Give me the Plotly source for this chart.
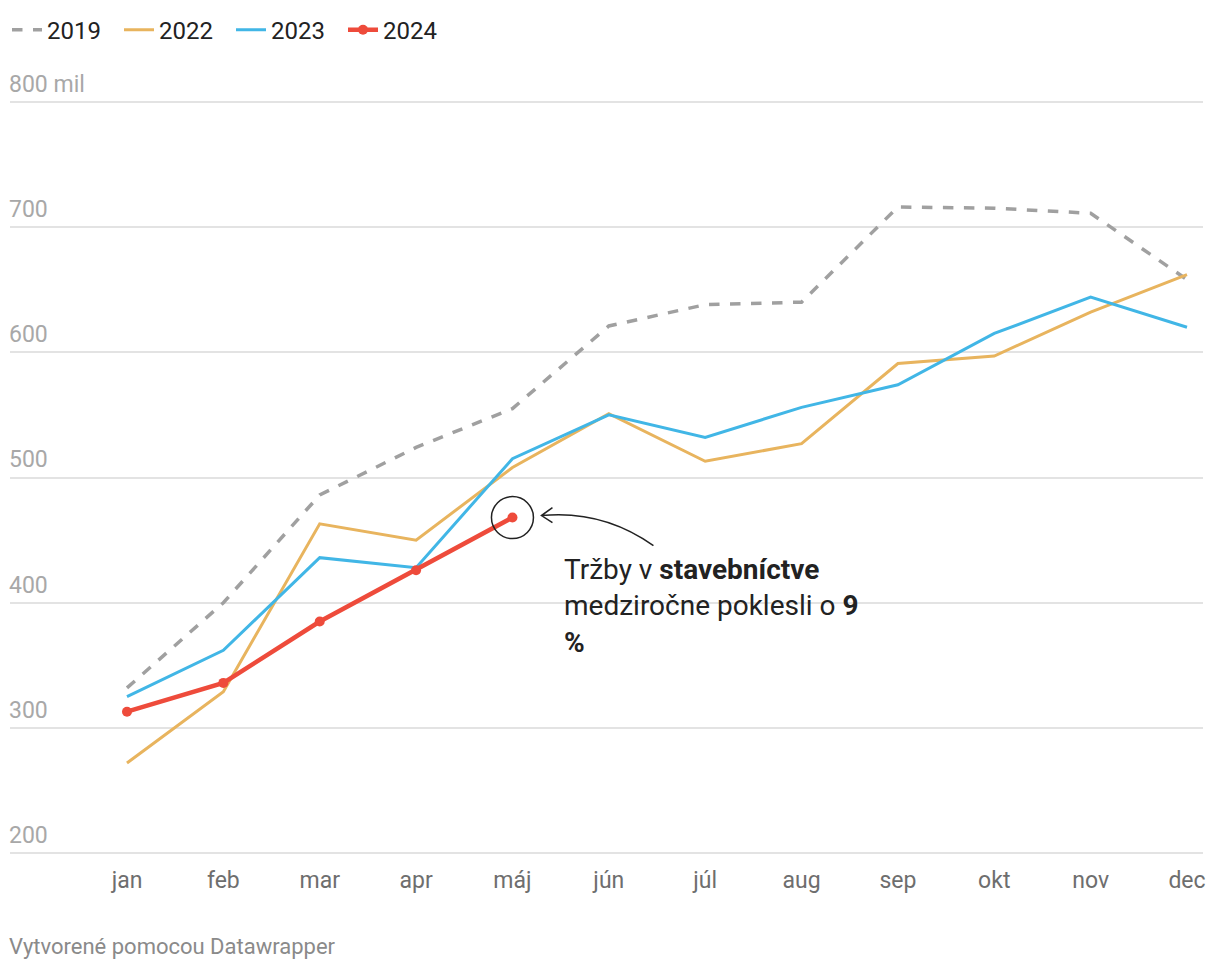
import plotly.graph_objects as go

months = ["jan", "feb", "mar", "apr", "máj", "jún", "júl", "aug", "sep", "okt", "nov", "dec"]
s2019 = [332, 400, 486, 524, 555, 621, 638, 640, 716, 715, 711, 658]
s2022 = [272, 329, 463, 450, 508, 551, 513, 527, 591, 597, 632, 662]
s2023 = [325, 362, 436, 428, 515, 550, 532, 556, 574, 615, 644, 620]
s2024 = [313, 336, 385, 426, 468]
ytick_vals = [200, 300, 400, 500, 600, 700, 800]
ytick_text = ["200", "300", "400", "500", "600", "700", "800 mil"]

W, H = 1220, 970
OFF = 8  # default page margin of the html body
# target pixel geometry (screenshot coordinates)
PL, PR = 10, 1203          # plot area left / right
Y800, Y200 = 102, 853      # pixel rows of 800 and 200
YR = [197, 803]
ppu = (Y200 - Y800) / 600.0
PT = Y800 - (YR[1] - 800) * ppu
PB = Y200 + (200 - YR[0]) * ppu
ML = PL - OFF
MR = W + OFF - PR
MT = PT - OFF
MB = H + OFF - PB
XR = [-1.214, 11.166]
pw = PR - PL
ph = PB - PT

def dx(px):  # pixel delta -> data delta (x)
    return px * (XR[1] - XR[0]) / pw

def dy(px):  # pixel delta (down positive) -> data delta (y)
    return -px * (YR[1] - YR[0]) / ph

x = list(range(len(months)))
fig = go.Figure()
fig.add_trace(go.Scatter(x=x, y=s2019, name="2019", mode="lines",
                         line=dict(color="#a0a0a0", width=3.5, dash="dash")))
fig.add_trace(go.Scatter(x=x, y=s2022, name="2022", mode="lines",
                         line=dict(color="#e8b45e", width=3)))
fig.add_trace(go.Scatter(x=x, y=s2023, name="2023", mode="lines",
                         line=dict(color="#41b6e6", width=3)))
fig.add_trace(go.Scatter(x=x[:len(s2024)], y=s2024, name="2024", mode="lines+markers",
                         line=dict(color="#ee4b3b", width=4.5),
                         marker=dict(size=10, color="#ee4b3b")))

# highlight circle around last 2024 point
hx, hy = len(s2024) - 1, s2024[-1]
fig.add_shape(type="circle", xref="x", yref="y", xsizemode="pixel", ysizemode="pixel",
              xanchor=hx, yanchor=hy, x0=-21, x1=21, y0=-21, y1=21,
              line=dict(color="#222222", width=1.5), fillcolor="rgba(0,0,0,0)")

# curved arrow
ex, ey = hx + dx(29), hy + dy(-2)
tx, ty = hx + dx(141), hy + dy(28)
cx, cy = hx + dx(90), hy + dy(-8)
a1x, a1y = ex + dx(11), ey + dy(-8)
a2x, a2y = ex + dx(11), ey + dy(7)
path = (f"M {tx},{ty} Q {cx},{cy} {ex},{ey} "
        f"M {a1x},{a1y} L {ex},{ey} L {a2x},{a2y}")
fig.add_shape(type="path", xref="x", yref="y", path=path,
              line=dict(color="#222222", width=1.5))

fig.add_annotation(xref="x", yref="y", x=hx + dx(50), y=hy + dy(33),
                   xanchor="left", yanchor="top", align="left", showarrow=False,
                   text="Tržby v <b>stavebníctve</b><br>medziročne poklesli o <b>9</b><br><b>%</b>",
                   font=dict(family="Roboto", size=28, color="#222222"))

fig.add_annotation(xref="paper", yref="paper", x=0, y=-(946 - PB) / ph, xshift=-3,
                   xanchor="left", yanchor="middle", showarrow=False,
                   text="Vytvorené pomocou Datawrapper",
                   font=dict(family="Roboto", size=22, color="#8a8a8a"))

fig.update_layout(
    width=W, height=H,
    margin=dict(l=ML, r=MR, t=MT, b=MB, pad=0, autoexpand=False),
    paper_bgcolor="white", plot_bgcolor="white",
    font=dict(family="Roboto", color="#333333"),
    hovermode=False,
    legend=dict(orientation="h", x=-3 / pw, xanchor="left", y=1 + MT / ph, yanchor="top",
                font=dict(size=24, color="#222222"), itemwidth=30,
                entrywidth=67, entrywidthmode="pixels",
                traceorder="normal", bgcolor="rgba(0,0,0,0)"),
    xaxis=dict(range=XR, tickvals=x, ticktext=months, showgrid=False, zeroline=False,
               showline=False, ticks="", tickfont=dict(size=23, color="#6e6e6e"),
               ticklabelstandoff=7, automargin=False),
    yaxis=dict(range=YR, tickvals=ytick_vals, ticktext=ytick_text, showgrid=True,
               gridcolor="#e3e3e3", gridwidth=1.5, zeroline=False, showline=False,
               ticks="", ticklabelposition="inside top", ticklabeloverflow="allow",
               ticklabelstandoff=-4, ticklabelshift=-2, automargin=False,
               tickfont=dict(size=23, color="#a8a8a8")),
)

fig.write_html("out.html")
